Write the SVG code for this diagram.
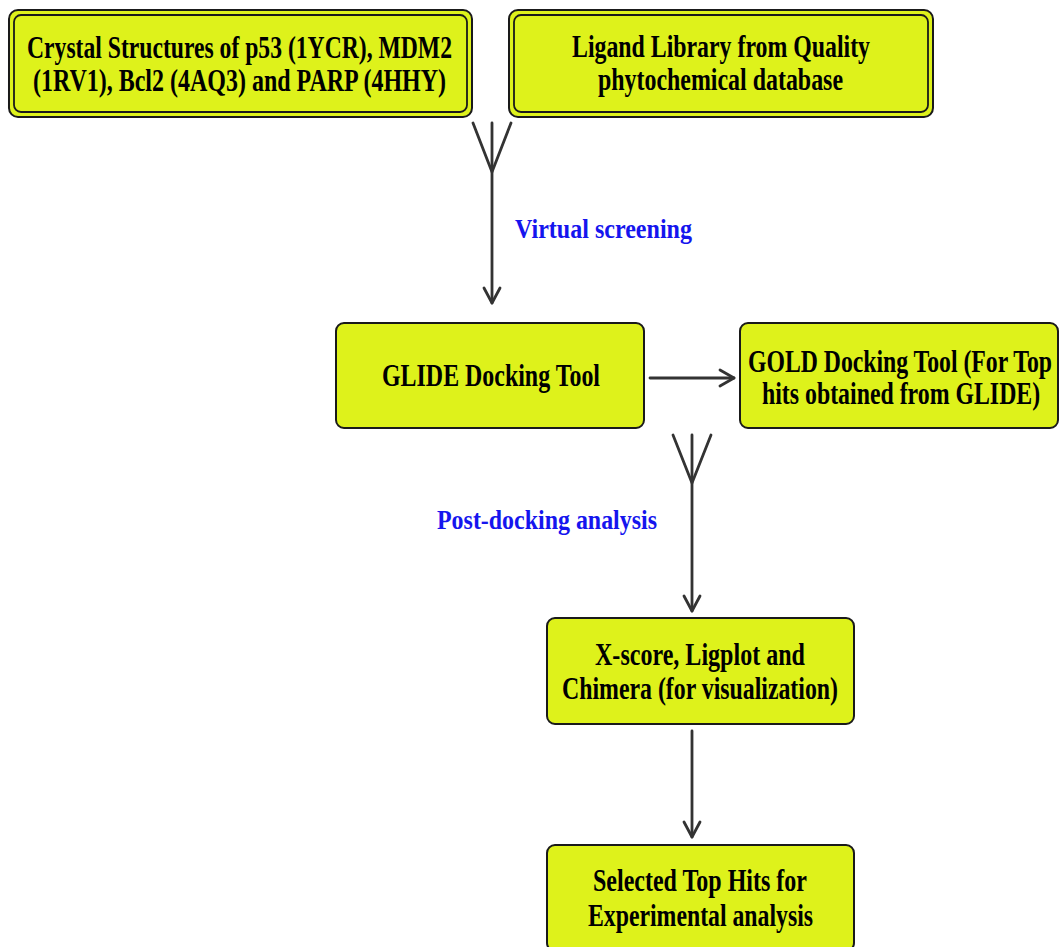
<svg xmlns="http://www.w3.org/2000/svg" width="1060" height="947" viewBox="0 0 1060 947">
<style>
.box{fill:#def21b;stroke:#1a1a1a;stroke-width:2}
.inner{fill:none;stroke:#1a1a1a;stroke-width:1.8}
.t{font-family:"Liberation Serif","Times New Roman",serif;font-weight:bold;font-size:31px;fill:#000}
.lbl{font-family:"Liberation Serif","Times New Roman",serif;font-weight:bold;font-size:28px;fill:#1515ee}
.c{fill:none;stroke:#333;stroke-width:2.8;stroke-linecap:round;stroke-linejoin:round}
</style>
<rect width="1060" height="947" fill="#fff"/>
<g id="node-crystal">
<rect class="box" x="9" y="10" width="463" height="107" rx="9"/>
<rect class="inner" x="14" y="15" width="453" height="97" rx="7"/>
<text class="t" x="27" y="58" textLength="425" lengthAdjust="spacingAndGlyphs">Crystal Structures of p53 (1YCR), MDM2</text>
<text class="t" x="33" y="91" textLength="413" lengthAdjust="spacingAndGlyphs">(1RV1), Bcl2 (4AQ3) and PARP (4HHY)</text>
</g>
<g id="node-ligand">
<rect class="box" x="509" y="10" width="424" height="107" rx="9"/>
<rect class="inner" x="514" y="15" width="414" height="97" rx="7"/>
<text class="t" x="572" y="57" textLength="298" lengthAdjust="spacingAndGlyphs">Ligand Library from Quality</text>
<text class="t" x="598" y="90" textLength="245" lengthAdjust="spacingAndGlyphs">phytochemical database</text>
</g>
<g id="node-glide">
<rect class="box" x="336" y="323" width="308" height="105" rx="8"/>
<text class="t" x="382" y="386" textLength="218" lengthAdjust="spacingAndGlyphs">GLIDE Docking Tool</text>
</g>
<g id="node-gold">
<rect class="box" x="740" y="323" width="318" height="105" rx="8"/>
<text class="t" transform="translate(748,372) scale(0.76,1)" x="0" y="0" textLength="400" lengthAdjust="spacingAndGlyphs">GOLD Docking Tool (For Top</text>
<text class="t" transform="translate(762,404) scale(0.76,1)" x="0" y="0" textLength="366" lengthAdjust="spacingAndGlyphs">hits obtained from GLIDE)</text>
</g>
<g id="node-xscore">
<rect class="box" x="547" y="618" width="307" height="106" rx="8"/>
<text class="t" x="595" y="665" textLength="210" lengthAdjust="spacingAndGlyphs">X-score, Ligplot and</text>
<text class="t" x="562" y="699" textLength="276" lengthAdjust="spacingAndGlyphs">Chimera (for visualization)</text>
</g>
<g id="node-selected">
<rect class="box" x="547" y="845" width="307" height="106" rx="8"/>
<text class="t" x="593" y="891" textLength="214" lengthAdjust="spacingAndGlyphs">Selected Top Hits for</text>
<text class="t" x="588" y="926" textLength="225" lengthAdjust="spacingAndGlyphs">Experimental analysis</text>
</g>
<g id="connectors">
<path class="c" d="M473 123 L492 172 L511 123"/>
<path class="c" d="M492 123 L492 303"/>
<path class="c" d="M484 288 L492 303 L500 288"/>
<path class="c" d="M650 378 L734 378"/>
<path class="c" d="M720 370 L734 378 L720 386"/>
<path class="c" d="M673 435 L692 483 L711 435"/>
<path class="c" d="M692 435 L692 611"/>
<path class="c" d="M684 596 L692 611 L700 596"/>
<path class="c" d="M692 731 L692 837"/>
<path class="c" d="M684 822 L692 837 L700 822"/>
</g>
<g id="labels">
<text class="lbl" x="515" y="238" textLength="177" lengthAdjust="spacingAndGlyphs">Virtual screening</text>
<text class="lbl" x="437" y="529" textLength="220" lengthAdjust="spacingAndGlyphs">Post-docking analysis</text>
</g>
</svg>
